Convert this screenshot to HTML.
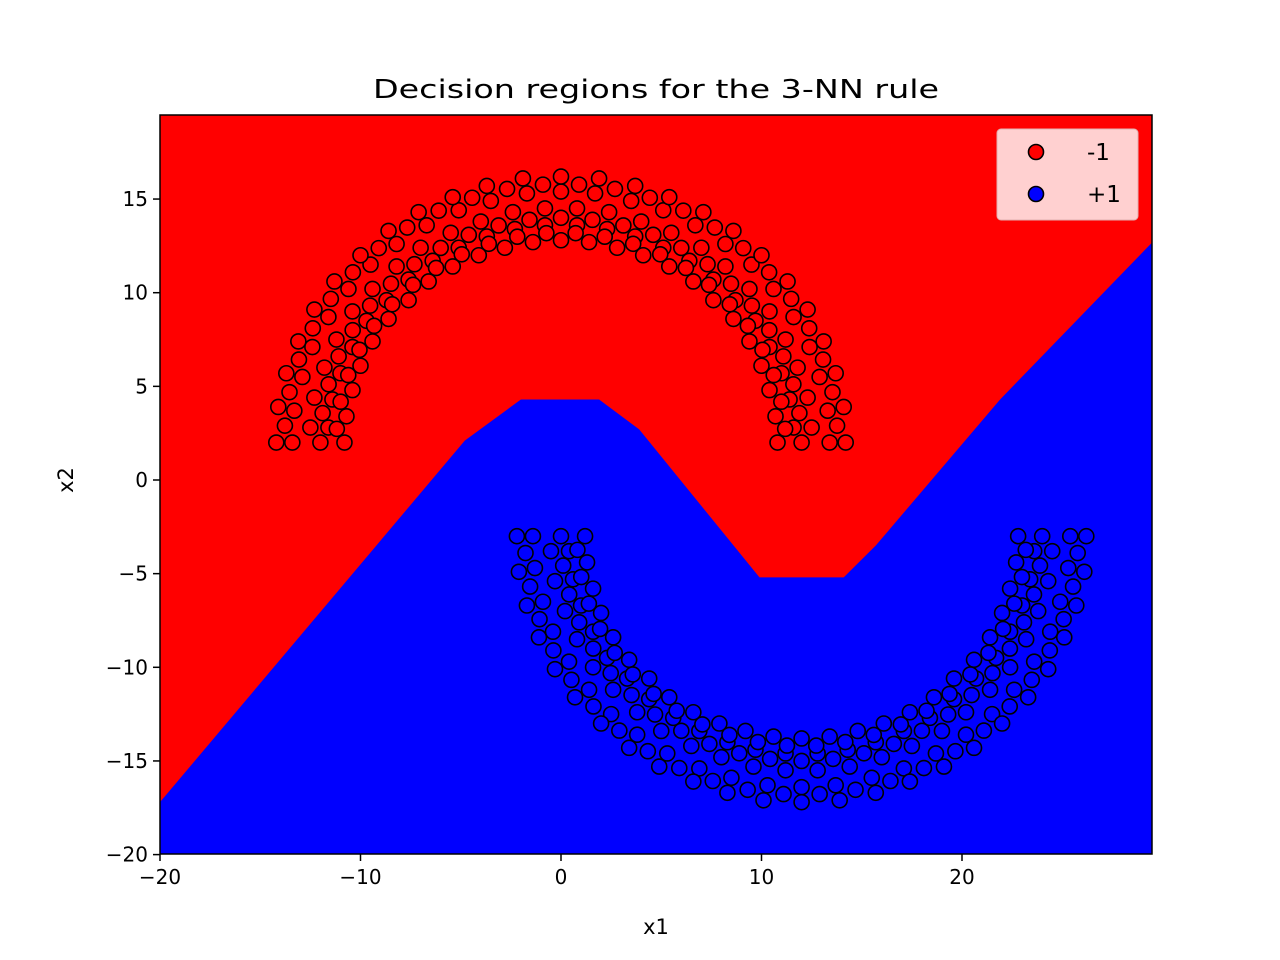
<!DOCTYPE html>
<html><head><meta charset="utf-8"><style>
body{margin:0;background:#fff;}
svg{display:block;font-family:"DejaVu Sans","Liberation Sans",sans-serif;}
</style></head><body>
<svg id="chart" width="1280" height="960" viewBox="0 0 1280 960">
<text x="656" y="98" font-size="26" text-anchor="middle" textLength="566" lengthAdjust="spacingAndGlyphs">Decision regions for the 3-NN rule</text>
<defs><clipPath id="clip"><rect x="160" y="115" width="992" height="739"/></clipPath></defs>
<g id="plot" clip-path="url(#clip)"></g>
<rect x="160" y="115" width="992" height="739" fill="none" stroke="#000" stroke-width="1.5"/>
<g id="ticks"></g>
<text x="656" y="934" font-size="21" text-anchor="middle">x1</text>
<text x="66" y="487" font-size="21" text-anchor="middle" transform="rotate(-90 66 480)">x2</text>
<g>
<rect x="997" y="129" width="141" height="91" rx="4" fill="#ffd0d0" stroke="#e0b0b0"/>
<circle cx="1036" cy="152" r="7.5" fill="#f00" stroke="#000" stroke-width="1.6"/>
<text x="1087" y="160" font-size="23">-1</text>
<circle cx="1036" cy="194" r="7.5" fill="#00f" stroke="#000" stroke-width="1.6"/>
<text x="1087" y="202" font-size="23">+1</text>
</g>
</svg>
<script>
const xTicks=[-20,-10,0,10,20];
const yTicks=[-20,-15,-10,-5,0,5,10,15];
const boundaryX=[-20,-4.8,-2.0,1.9,3.9,9.9,14.1,15.7,21.9,29.5];
const boundaryY=[-17.2,2.1,4.3,4.3,2.7,-5.2,-5.2,-3.5,4.3,12.7];
const topPts=[
[10.8,2],[10.7,3.4],[10.4,4.8],[10.0,6.1],[9.4,7.4],[8.6,8.6],[7.6,9.6],[6.6,10.6],[5.4,11.4],[4.1,12.0],[2.8,12.4],[1.4,12.7],[0,12.8],
[-10.8,2],[-10.7,3.4],[-10.4,4.8],[-10.0,6.1],[-9.4,7.4],[-8.6,8.6],[-7.6,9.6],[-6.6,10.6],[-5.4,11.4],[-4.1,12.0],[-2.8,12.4],[-1.4,12.7],
[11.6,2.8],[11.4,4.3],[11.0,5.7],[10.4,7.1],[9.7,8.5],[8.7,9.6],[7.6,10.7],[6.4,11.7],[5.1,12.4],[3.7,13.0],[2.3,13.4],[0.8,13.6],
[-11.6,2.8],[-11.4,4.3],[-11.0,5.7],[-10.4,7.1],[-9.7,8.5],[-8.7,9.6],[-7.6,10.7],[-6.4,11.7],[-5.1,12.4],[-3.7,13.0],[-2.3,13.4],[-0.8,13.6],
[12.5,2.8],[12.3,4.4],[11.8,6.0],[11.2,7.5],[10.4,9.0],[9.4,10.2],[8.2,11.4],[7.0,12.4],[5.5,13.2],[4.0,13.8],[2.4,14.3],[0.8,14.5],
[-12.5,2.8],[-12.3,4.4],[-11.8,6.0],[-11.2,7.5],[-10.4,9.0],[-9.4,10.2],[-8.2,11.4],[-7.0,12.4],[-5.5,13.2],[-4.0,13.8],[-2.4,14.3],[-0.8,14.5],
[13.4,2],[13.3,3.7],[12.9,5.5],[12.4,7.1],[11.6,8.7],[10.6,10.2],[9.5,11.5],[8.2,12.6],[6.7,13.6],[5.1,14.4],[3.5,14.9],[1.7,15.3],[0,15.4],
[-13.4,2],[-13.3,3.7],[-12.9,5.5],[-12.4,7.1],[-11.6,8.7],[-10.6,10.2],[-9.5,11.5],[-8.2,12.6],[-6.7,13.6],[-5.1,14.4],[-3.5,14.9],[-1.7,15.3],
[14.2,2],[14.1,3.9],[13.7,5.7],[13.1,7.4],[12.3,9.1],[11.3,10.6],[10.0,12.0],[8.6,13.3],[7.1,14.3],[5.4,15.1],[3.7,15.7],[1.9,16.1],[0,16.2],
[-14.2,2],[-14.1,3.9],[-13.7,5.7],[-13.1,7.4],[-12.3,9.1],[-11.3,10.6],[-10.0,12.0],[-8.6,13.3],[-7.1,14.3],[-5.4,15.1],[-3.7,15.7],[-1.9,16.1]
];
const topExtra=[
[11.18,2.73],[10.99,4.18],[10.61,5.60],[10.05,6.95],[9.32,8.23],[8.42,9.38],[7.38,10.42],[6.23,11.32],[4.95,12.05],[3.60,12.61],[2.18,12.99],[0.73,13.18],
[-11.18,2.73],[-10.99,4.18],[-10.61,5.60],[-10.05,6.95],[-9.32,8.23],[-8.42,9.38],[-7.38,10.42],[-6.23,11.32],[-4.95,12.05],[-3.60,12.61],[-2.18,12.99],[-0.73,13.18],
[13.77,2.90],[13.54,4.69],[13.07,6.43],[12.38,8.10],[11.48,9.67],[10.38,11.09],[9.09,12.38],[7.67,13.48],[6.10,14.38],[4.43,15.07],[2.69,15.54],[0.90,15.77],
[-13.77,2.90],[-13.54,4.69],[-13.07,6.43],[-12.38,8.10],[-11.48,9.67],[-10.38,11.09],[-9.09,12.38],[-7.67,13.48],[-6.10,14.38],[-4.43,15.07],[-2.69,15.54],[-0.90,15.77],
[12,2],[11.89,3.57],[11.59,5.11],[11.09,6.6],[10.39,8.0],[9.52,9.31],[8.48,10.48],[7.31,11.52],[6.0,12.39],[4.6,13.09],[3.11,13.59],[1.57,13.89],[0,14.0],
[-12,2],[-11.89,3.57],[-11.59,5.11],[-11.09,6.6],[-10.39,8.0],[-9.52,9.31],[-8.48,10.48],[-7.31,11.52],[-6.0,12.39],[-4.6,13.09],[-3.11,13.59],[-1.57,13.89]
];
const botPts=[
[1.2,-3],[1.3,-4.4],[1.6,-5.8],[2.0,-7.1],[2.6,-8.4],[3.4,-9.6],[4.4,-10.6],[5.4,-11.6],[6.6,-12.4],[7.9,-13.0],[9.2,-13.4],[10.6,-13.7],[12,-13.8],
[22.8,-3],[22.7,-4.4],[22.4,-5.8],[22.0,-7.1],[21.4,-8.4],[20.6,-9.6],[19.6,-10.6],[18.6,-11.6],[17.4,-12.4],[16.1,-13.0],[14.8,-13.4],[13.4,-13.7],
[0.4,-3.8],[0.6,-5.3],[1.0,-6.7],[1.6,-8.1],[2.3,-9.5],[3.3,-10.6],[4.4,-11.7],[5.6,-12.7],[6.9,-13.4],[8.3,-14.0],[9.7,-14.4],[11.2,-14.6],
[23.6,-3.8],[23.4,-5.3],[23.0,-6.7],[22.4,-8.1],[21.7,-9.5],[20.7,-10.6],[19.6,-11.7],[18.4,-12.7],[17.1,-13.4],[15.7,-14.0],[14.3,-14.4],[12.8,-14.6],
[-0.5,-3.8],[-0.3,-5.4],[0.2,-7.0],[0.8,-8.5],[1.6,-10.0],[2.6,-11.2],[3.8,-12.4],[5.0,-13.4],[6.5,-14.2],[8.0,-14.8],[9.6,-15.3],[11.2,-15.5],
[24.5,-3.8],[24.3,-5.4],[23.8,-7.0],[23.2,-8.5],[22.4,-10.0],[21.4,-11.2],[20.2,-12.4],[19.0,-13.4],[17.5,-14.2],[16.0,-14.8],[14.4,-15.3],[12.8,-15.5],
[-1.4,-3],[-1.3,-4.7],[-0.9,-6.5],[-0.4,-8.1],[0.4,-9.7],[1.4,-11.2],[2.5,-12.5],[3.8,-13.6],[5.3,-14.6],[6.9,-15.4],[8.5,-15.9],[10.3,-16.3],[12,-16.4],
[25.4,-3],[25.3,-4.7],[24.9,-6.5],[24.4,-8.1],[23.6,-9.7],[22.6,-11.2],[21.5,-12.5],[20.2,-13.6],[18.7,-14.6],[17.1,-15.4],[15.5,-15.9],[13.7,-16.3],
[-2.2,-3],[-2.1,-4.9],[-1.7,-6.7],[-1.1,-8.4],[-0.3,-10.1],[0.7,-11.6],[2.0,-13.0],[3.4,-14.3],[4.9,-15.3],[6.6,-16.1],[8.3,-16.7],[10.1,-17.1],[12,-17.2],
[26.2,-3],[26.1,-4.9],[25.7,-6.7],[25.1,-8.4],[24.3,-10.1],[23.3,-11.6],[22.0,-13.0],[20.6,-14.3],[19.1,-15.3],[17.4,-16.1],[15.7,-16.7],[13.9,-17.1]
];
const botExtra=[
[0.82,-3.73],[1.01,-5.18],[1.39,-6.60],[1.95,-7.95],[2.68,-9.23],[3.58,-10.38],[4.62,-11.42],[5.77,-12.32],[7.05,-13.05],[8.40,-13.61],[9.82,-13.99],[11.27,-14.18],
[23.18,-3.73],[22.99,-5.18],[22.61,-6.60],[22.05,-7.95],[21.32,-9.23],[20.42,-10.38],[19.38,-11.42],[18.23,-12.32],[16.95,-13.05],[15.60,-13.61],[14.18,-13.99],[12.73,-14.18],
[-1.77,-3.90],[-1.54,-5.69],[-1.07,-7.43],[-0.38,-9.10],[0.52,-10.67],[1.62,-12.09],[2.91,-13.38],[4.33,-14.48],[5.90,-15.38],[7.57,-16.07],[9.31,-16.54],[11.10,-16.77],
[25.77,-3.90],[25.54,-5.69],[25.07,-7.43],[24.38,-9.10],[23.48,-10.67],[22.38,-12.09],[21.09,-13.38],[19.67,-14.48],[18.10,-15.38],[16.43,-16.07],[14.69,-16.54],[12.90,-16.77],
[0,-3],[0.11,-4.57],[0.41,-6.11],[0.91,-7.6],[1.61,-9.0],[2.48,-10.31],[3.52,-11.48],[4.69,-12.52],[6.0,-13.39],[7.4,-14.09],[8.89,-14.59],[10.43,-14.89],[12,-15.0],
[24,-3],[23.89,-4.57],[23.59,-6.11],[23.09,-7.6],[22.39,-9.0],[21.52,-10.31],[20.48,-11.48],[19.31,-12.52],[18.0,-13.39],[16.6,-14.09],[15.11,-14.59],[13.57,-14.89]
];
const NS='http://www.w3.org/2000/svg';
function sx(v){return 561+v*20.05;}
function sy(v){return 480-v*18.73;}
const plot=document.getElementById('plot');
const ticks=document.getElementById('ticks');
function mk(tag,attrs,parent){const e=document.createElementNS(NS,tag);for(const k in attrs)e.setAttribute(k,attrs[k]);parent.appendChild(e);return e;}
const red=mk('rect',{x:160,y:115,width:992,height:739,fill:'#ff0000'},plot);


let d='M'+sx(boundaryX[0])+' '+sy(boundaryY[0]);
for(let i=1;i<boundaryX.length;i++)d+=' L'+sx(boundaryX[i])+' '+sy(boundaryY[i]);
d+=' L'+sx(29.5)+' '+sy(-20)+' L'+sx(-20)+' '+sy(-20)+' Z';
const blue=mk('path',{d:d,fill:'#0000ff'},plot);


function pts(arr,col,name){
  for(const p of arr){
    const c=mk('circle',{cx:sx(p[0]),cy:sy(p[1]),r:7.5,fill:col,stroke:'#000','stroke-width':1.6},plot);
    
    
  }
}
pts(topPts,'#ff0000','point-class-neg');
pts(topExtra,'#ff0000','point-class-neg');
pts(botPts,'#0000ff','point-class-pos');
pts(botExtra,'#0000ff','point-class-pos');
for(const t of xTicks){
  const l=mk('line',{x1:sx(t),x2:sx(t),y1:854,y2:861,stroke:'#000','stroke-width':1.5},ticks);
  
  
  const tx=mk('text',{x:sx(t),y:884,'font-size':20,'text-anchor':'middle'},ticks);
  tx.textContent=(t<0?'\u2212'+(-t):t);
  
  
}
for(const t of yTicks){
  const l=mk('line',{x1:153,x2:160,y1:sy(t),y2:sy(t),stroke:'#000','stroke-width':1.5},ticks);
  
  
  const tx=mk('text',{x:148,y:sy(t)+7,'font-size':20,'text-anchor':'end'},ticks);
  tx.textContent=(t<0?'\u2212'+(-t):t);
  
  
}
</script>
</body></html>
